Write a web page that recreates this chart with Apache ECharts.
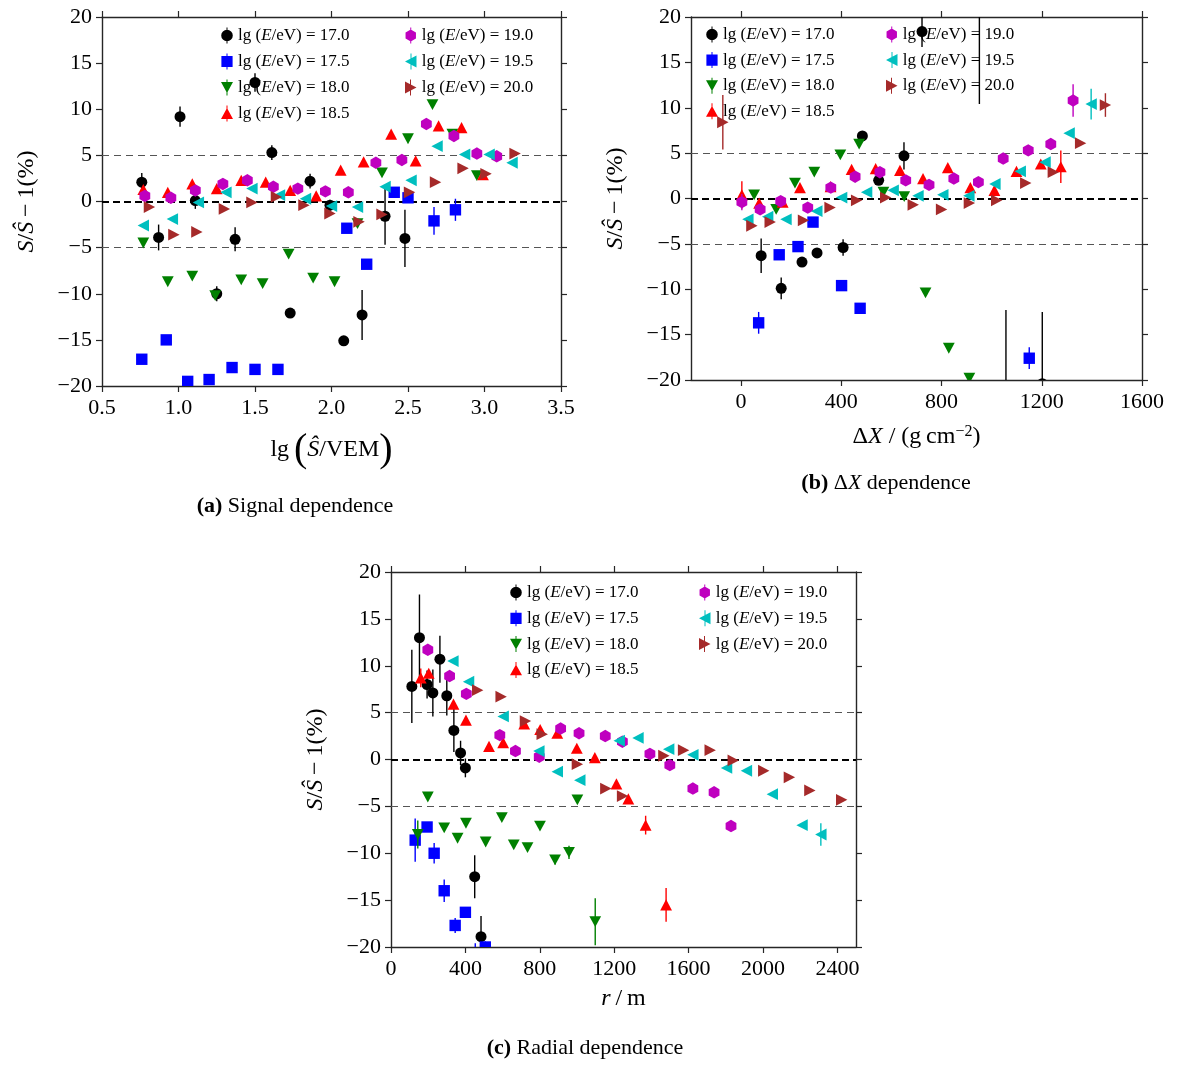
<!DOCTYPE html>
<html>
<head>
<meta charset="utf-8">
<script src="https://cdn.jsdelivr.net/npm/echarts@6/dist/echarts.min.js"></script>
<style>
  html, body { margin: 0; padding: 0; background: #fff; }
  #chart { width: 1181px; height: 1068px; }
</style>
</head>
<body>
<div id="chart"></div>
<script>
// Energy bins shown in every panel
const energyBins = ['17.0', '17.5', '18.0', '18.5', '19.0', '19.5', '20.0'];
const binColors = ['#000000', '#0000ff', '#008000', '#ff0000', '#bf00bf', '#00bfbf', '#a52a2a'];
const binShapes = ['circle', 'square', 'triDown', 'triUp', 'hexagon', 'triLeft', 'triRight'];

// Each point: [x, S/Ŝ − 1 in %, error in %]
// (a) signal dependence, x = lg(Ŝ/VEM)
const sig170 = [[0.76,2.1,1.0],[0.87,-3.9,1.4],[1.01,9.2,1.1],[1.11,0.1,0.9],[1.25,-10.0,0.8],[1.37,-4.1,1.3],[1.50,12.9,1.0],[1.61,5.3,0.8],[1.73,-12.1,0.5],[1.86,2.2,0.8],[1.99,-0.4,0.6],[2.08,-15.1,0.4],[2.20,-12.3,2.7],[2.35,-1.6,3.1],[2.48,-4.0,3.1]];
const sig175 = [[0.76,-17.1,0],[0.92,-15.0,0],[1.06,-19.5,0],[1.20,-19.3,0],[1.35,-18.0,0],[1.50,-18.2,0],[1.65,-18.2,0],[2.10,-2.9,0],[2.23,-6.8,0],[2.41,1.0,0],[2.50,0.4,0],[2.67,-2.1,1.5],[2.81,-0.9,1.2]];
const sig180 = [[0.77,-4.5,0],[0.93,-8.7,0],[1.09,-8.1,0],[1.24,-10.2,0],[1.41,-8.5,0],[1.55,-8.9,0],[1.72,-5.7,0],[1.88,-8.3,0],[2.02,-8.7,0],[2.17,-2.4,0],[2.33,3.1,0],[2.50,6.8,0],[2.66,10.5,0],[2.79,7.3,0],[2.95,2.8,0]];
const sig185 = [[0.77,1.3,0],[0.93,1.0,0],[1.09,1.9,0],[1.25,1.4,0],[1.41,2.3,0],[1.57,2.1,0],[1.73,1.2,0],[1.90,0.6,0],[2.06,3.4,0],[2.21,4.3,0],[2.39,7.3,0],[2.55,4.4,0],[2.70,8.2,0],[2.85,8.0,0],[2.99,2.9,0]];
const sig190 = [[0.78,0.6,0],[0.95,0.4,0],[1.11,1.2,0],[1.29,1.9,0],[1.45,2.3,0],[1.62,1.6,0],[1.78,1.4,0],[1.96,1.1,0],[2.11,1.0,0],[2.29,4.2,0],[2.46,4.5,0],[2.62,8.4,0],[2.80,7.1,0],[2.95,5.2,0],[3.08,4.9,0]];
const sig195 = [[0.77,-2.6,0],[0.96,-1.9,0],[1.13,-0.1,0],[1.31,1.0,0],[1.48,1.4,0],[1.66,0.7,0],[1.83,0.3,0],[2.00,-0.5,0],[2.17,-0.6,0],[2.35,1.6,0],[2.52,2.3,0],[2.69,6.0,0],[2.87,5.1,0],[3.03,5.1,0],[3.18,4.2,0]];
const sig200 = [[0.81,-0.6,0],[0.97,-3.6,0],[1.12,-3.3,0],[1.30,-0.8,0],[1.48,-0.1,0],[1.64,0.5,0],[1.82,-0.4,0],[1.99,-1.3,0],[2.18,-2.2,0],[2.33,-1.4,0],[2.51,1.0,0],[2.68,2.1,0],[2.86,3.6,0],[3.01,3.0,0],[3.20,5.2,0]];

// (b) ΔX dependence, x = ΔX in g cm^-2
const dx170 = [[80,-6.3,1.9],[160,-9.9,1.2],[243,-7.0,0],[303,-6.0,0],[407,-5.4,0.9],[484,6.9,0],[549,2.0,0],[650,4.7,1.5],[722,18.4,1.7],[951,26.0,15.6],[1057,-27.0,14.7],[1202,-20.4,7.9]];
const dx175 = [[70,-13.7,1.2],[152,-6.2,0],[227,-5.3,0],[287,-2.6,0],[401,-9.6,0],[475,-12.1,0],[1150,-17.6,1.2]];
const dx180 = [[52,0.4,0],[140,-1.2,0],[215,1.7,0],[292,2.9,0],[396,4.8,0],[471,6.0,0],[568,0.7,0],[651,0.2,0],[736,-10.4,0],[829,-16.5,0],[911,-19.8,0]];
const dx185 = [[3,0.4,1.5],[72,-0.5,0],[166,-0.4,0],[235,1.2,0],[357,1.3,0],[441,3.2,0],[537,3.3,0],[634,3.1,0],[726,2.2,0],[825,3.4,0],[915,1.2,0],[1011,0.9,0],[1099,3.0,0],[1196,3.8,0],[1276,3.5,1.8]];
const dx190 = [[3,-0.4,0.9],[76,-1.2,0],[158,-0.3,0],[266,-1.0,0],[358,1.2,0],[455,2.4,0],[554,2.9,0],[657,2.0,0],[750,1.5,0],[849,2.2,0],[947,1.8,0],[1046,4.4,0],[1146,5.3,0],[1236,6.0,0],[1325,10.8,1.8]];
const dx195 = [[27,-2.3,0],[106,-2.0,0],[179,-2.3,0],[302,-1.4,0],[401,0.1,0],[501,0.7,0],[607,0.9,0],[706,0.3,0],[805,0.4,0],[909,0.3,0],[1013,1.6,0],[1114,3.0,0],[1213,4.0,0],[1309,7.2,0],[1397,10.4,1.7]];
const dx200 = [[-73,8.4,3.0],[43,-3.0,0],[116,-2.6,0],[249,-2.4,0],[355,-1.0,0],[461,-0.2,0],[577,0.1,0],[687,-0.7,0],[800,-1.2,0],[911,-0.5,0],[1020,-0.2,0],[1136,1.7,0],[1246,2.9,0],[1355,6.1,0],[1454,10.3,1.3]];

// (c) radial dependence, x = r in m
const rad170 = [[112,7.8,3.9],[153,13.0,4.6],[194,8.0,1.5],[225,7.1,2.5],[263,10.7,2.5],[300,6.8,2.1],[338,3.1,2.3],[374,0.7,1.3],[400,-0.9,1.0],[450,-12.5,2.3],[484,-18.9,2.2]];
const rad175 = [[130,-8.6,2.3],[194,-7.2,0],[232,-10.0,1.1],[286,-14.0,1.2],[345,-17.7,0.8],[400,-16.3,0],[453,-21.5,1.9],[507,-20.0,0.6]];
const rad180 = [[144,-8.0,1.5],[198,-4.0,0],[286,-7.3,0],[358,-8.4,0],[403,-6.8,0],[509,-8.8,0],[596,-6.2,0],[660,-9.1,0],[734,-9.4,0],[801,-7.1,0],[882,-10.7,0.5],[957,-9.9,0.7],[1002,-4.3,0],[1098,-17.3,2.5]];
const rad185 = [[160,8.7,1.0],[203,9.2,0],[336,5.9,0],[403,4.2,0],[527,1.4,0],[603,1.8,0],[716,3.8,0],[802,3.2,0],[894,2.8,0],[999,1.2,0],[1096,0.2,0],[1212,-2.6,0],[1276,-4.2,0],[1369,-7.0,1.0],[1479,-15.5,1.8]];
const rad190 = [[198,11.7,0],[315,8.9,0],[405,7.0,0],[585,2.6,0],[669,0.9,0],[797,0.3,0],[912,3.3,0],[1011,2.8,0],[1152,2.5,0],[1244,1.9,0],[1392,0.6,0],[1499,-0.6,0],[1623,-3.1,0],[1737,-3.5,0],[1828,-7.1,0]];
const rad195 = [[333,10.5,0],[417,8.3,0],[603,4.6,0],[795,0.9,0],[894,-1.3,0],[1015,-2.2,0],[1227,2.0,0],[1328,2.3,0],[1493,1.1,0],[1623,0.5,0],[1804,-0.9,0],[1911,-1.2,0],[2050,-3.7,0],[2210,-7.0,0],[2311,-8.0,1.2]];
const rad200 = [[466,7.4,0],[592,6.7,0],[723,4.1,0],[813,2.7,0],[1002,-0.5,0],[1155,-3.1,0],[1245,-3.9,0],[1467,0.4,0],[1573,1.0,0],[1716,1.0,0],[1840,-0.1,0],[2004,-1.2,0],[2142,-1.9,0],[2252,-3.3,0],[2423,-4.3,0]];

// Axis ticks
const yTicks = [-20, -15, -10, -5, 0, 5, 10, 15, 20];
const sigTicks = [0.5, 1.0, 1.5, 2.0, 2.5, 3.0, 3.5];
const dxTicks = [0, 400, 800, 1200, 1600];
const radTicks = [0, 400, 800, 1200, 1600, 2000, 2400];

const panelData = [
  [sig170, sig175, sig180, sig185, sig190, sig195, sig200],
  [dx170, dx175, dx180, dx185, dx190, dx195, dx200],
  [rad170, rad175, rad180, rad185, rad190, rad195, rad200]
];

const FONT = '"Liberation Serif", "DejaVu Serif", serif';
const AXIS_COLOR = '#262626';
const seriesNames = energyBins.map(e => 'lg (E/eV) = ' + e);

// Legend icons: marker with a short vertical error stub (all sub-paths clockwise)
const legendIcons = {
  circle:   'path://M5.5,0H6.5V16H5.5Z M6,2.2A5.8,5.8 0 1 1 6,13.8A5.8,5.8 0 1 1 6,2.2Z',
  square:   'path://M5.5,0H6.5V16H5.5Z M0.4,2.4H11.6V13.6H0.4Z',
  triDown:  'path://M5.5,0H6.5V16H5.5Z M0,2.6H12L6,13.4Z',
  triUp:    'path://M5.5,0H6.5V16H5.5Z M6,2.6L12,13.4H0Z',
  hexagon:  'path://M5.5,0H6.5V16H5.5Z M6,2L11.2,5V11L6,14L0.8,11V5Z',
  triLeft:  'path://M5.5,0H6.5V16H5.5Z M0,8L11.5,2V14Z',
  triRight: 'path://M5.5,0H6.5V16H5.5Z M0.5,2L12,8L0.5,14Z'
};

function marker(kind, cx, cy, color) {
  const style = { fill: color };
  switch (kind) {
    case 'circle':
      return { type: 'circle', shape: { cx: cx, cy: cy, r: 5.5 }, style: style };
    case 'square':
      return { type: 'rect', shape: { x: cx - 5.7, y: cy - 5.7, width: 11.4, height: 11.4 }, style: style };
    case 'triDown':
      return { type: 'polygon', shape: { points: [[cx - 5.9, cy - 5.4], [cx + 5.9, cy - 5.4], [cx, cy + 5.4]] }, style: style };
    case 'triUp':
      return { type: 'polygon', shape: { points: [[cx, cy - 5.6], [cx + 5.9, cy + 5.6], [cx - 5.9, cy + 5.6]] }, style: style };
    case 'hexagon':
      return { type: 'polygon', shape: { points: [[cx, cy - 6.2], [cx + 5.4, cy - 3.1], [cx + 5.4, cy + 3.1], [cx, cy + 6.2], [cx - 5.4, cy + 3.1], [cx - 5.4, cy - 3.1]] }, style: style };
    case 'triLeft':
      return { type: 'polygon', shape: { points: [[cx - 5.7, cy], [cx + 5.7, cy - 5.9], [cx + 5.7, cy + 5.9]] }, style: style };
    default:
      return { type: 'polygon', shape: { points: [[cx + 5.7, cy], [cx - 5.7, cy - 5.9], [cx - 5.7, cy + 5.9]] }, style: style };
  }
}

function pointRenderer(kind, color) {
  return function (params, api) {
    const x = api.value(0), y = api.value(1), err = api.value(2);
    const c = api.coord([x, y]);
    const children = [];
    if (err > 0) {
      const hi = api.coord([x, y + err]);
      const lo = api.coord([x, y - err]);
      children.push({ type: 'line', shape: { x1: c[0], y1: hi[1], x2: c[0], y2: lo[1] },
        style: { stroke: color, lineWidth: 1.4 } });
    }
    children.push(marker(kind, c[0], c[1], color));
    return { type: 'group', children: children };
  };
}

const minus = v => (v < 0 ? '\u2212' + Math.abs(v) : String(v));

const grids = [
  { left: 102, top: 17, width: 459, height: 369 },
  { left: 691, top: 17, width: 451, height: 363 },
  { left: 391, top: 572, width: 465, height: 375 }
];

const nameStyle = {
  fontFamily: FONT, fontSize: 24, color: '#000',
  rich: {
    i: { fontFamily: FONT, fontSize: 24, fontStyle: 'italic', color: '#000' },
    p: { fontFamily: FONT, fontSize: 40, color: '#000', fontWeight: 'lighter' },
    sup: { fontFamily: FONT, fontSize: 16, color: '#000', verticalAlign: 'top', padding: [0, 0, 10, 0] }
  }
};

const xSpecs = [
  { min: 0.5, max: 3.5, ticks: sigTicks, fmt: v => v.toFixed(1),
    name: 'lg\u2009{p|(}{i|\u015C}/VEM{p|)}', gap: 44 },
  { min: -200, max: 1600, ticks: dxTicks, fmt: v => String(v),
    name: '\u0394{i|X} / (g\u2009cm{sup|\u22122})', gap: 44 },
  { min: 0, max: 2500, ticks: radTicks, fmt: v => String(v),
    name: '{i|r}\u2009/\u2009m', gap: 40 }
];

const axisLine = { show: true, onZero: false, lineStyle: { color: AXIS_COLOR, width: 1.4 } };
const axisTick = { show: true, inside: false, length: 6, lineStyle: { color: AXIS_COLOR, width: 1.2 } };
const labelBase = { fontFamily: FONT, fontSize: 22, color: '#000' };

const xAxes = [], yAxes = [];
xSpecs.forEach((s, g) => {
  xAxes.push({
    type: 'value', gridIndex: g, position: 'bottom', min: s.min, max: s.max,
    axisLine: axisLine,
    axisTick: Object.assign({ customValues: s.ticks }, axisTick),
    axisLabel: Object.assign({ customValues: s.ticks, formatter: s.fmt, margin: 11 }, labelBase),
    splitLine: { show: false },
    name: s.name, nameLocation: 'middle', nameGap: s.gap, nameTextStyle: nameStyle
  });
  xAxes.push({
    type: 'value', gridIndex: g, position: 'top', min: s.min, max: s.max,
    axisLine: axisLine,
    axisTick: Object.assign({ customValues: s.ticks }, axisTick),
    axisLabel: { show: false, customValues: s.ticks },
    splitLine: { show: false }
  });
  yAxes.push({
    type: 'value', gridIndex: g, position: 'left', min: -20, max: 20,
    axisLine: axisLine,
    axisTick: Object.assign({ customValues: yTicks }, axisTick),
    axisLabel: Object.assign({ customValues: yTicks, formatter: minus, margin: 10 }, labelBase),
    splitLine: { show: false },
    name: '{i|S}/{i|\u015C}\u2009\u2212\u20091(%)', nameLocation: 'middle', nameRotate: 90,
    nameGap: 63, nameTextStyle: nameStyle
  });
  yAxes.push({
    type: 'value', gridIndex: g, position: 'right', min: -20, max: 20,
    axisLine: axisLine,
    axisTick: Object.assign({ customValues: yTicks }, axisTick),
    axisLabel: { show: false, customValues: yTicks },
    splitLine: { show: false }
  });
});

const series = [];
panelData.forEach((sets, g) => {
  // reference levels at 0 and ±5 %
  series.push({
    type: 'scatter', xAxisIndex: 2 * g, yAxisIndex: 2 * g, data: [], silent: true, z: 1,
    markLine: {
      silent: true, symbol: 'none', animation: false, label: { show: false },
      data: [
        { yAxis: 5, lineStyle: { color: '#555', type: [7, 5], width: 1.1 } },
        { yAxis: -5, lineStyle: { color: '#555', type: [7, 5], width: 1.1 } },
        { yAxis: 0, lineStyle: { color: '#000', type: [7, 4], width: 2.2 } }
      ]
    }
  });
  sets.forEach((pts, k) => {
    series.push({
      type: 'custom', name: seriesNames[k], xAxisIndex: 2 * g, yAxisIndex: 2 * g,
      clip: true, z: 5,
      itemStyle: { color: binColors[k] },
      dimensions: ['x', 'y', 'err'],
      encode: { x: 0, y: 1 },
      renderItem: pointRenderer(binShapes[k], binColors[k]),
      data: pts
    });
  });
});

const legendText = {
  fontFamily: FONT, fontSize: 17, color: '#000',
  rich: { e: { fontFamily: FONT, fontSize: 17, fontStyle: 'italic', color: '#000' } }
};
function legendBlock(left, top, gap, idx) {
  return {
    orient: 'vertical', left: left, top: top, itemWidth: 12, itemHeight: 16, itemGap: gap,
    padding: 0, selectedMode: false, textStyle: legendText,
    formatter: n => n.replace('(E/', '({e|E}/'),
    data: idx.map(k => ({ name: seriesNames[k], icon: legendIcons[binShapes[k]] }))
  };
}
const legends = [
  legendBlock(221, 27, 9, [0, 1, 2, 3]),
  legendBlock(405, 27, 9, [4, 5, 6]),
  legendBlock(706, 26, 8.6, [0, 1, 2, 3]),
  legendBlock(886, 26, 8.6, [4, 5, 6]),
  legendBlock(510, 584, 8.8, [0, 1, 2, 3]),
  legendBlock(699, 584, 8.8, [4, 5, 6])
];

const captionRich = { b: { fontFamily: FONT, fontSize: 22, fontWeight: 'bold', fill: '#000' },
                      i: { fontFamily: FONT, fontSize: 22, fontStyle: 'italic', fill: '#000' } };
function caption(x, y, text) {
  return { type: 'text', x: x, y: y, silent: true,
    style: { text: text, align: 'center', verticalAlign: 'middle', fontFamily: FONT, fontSize: 22,
             fill: '#000', rich: captionRich } };
}

const chart = echarts.init(document.getElementById('chart'), null, { renderer: 'canvas' });
chart.setOption({
  animation: false,
  backgroundColor: '#fff',
  grid: grids,
  xAxis: xAxes,
  yAxis: yAxes,
  legend: legends,
  series: series,
  graphic: [
    caption(295, 506, '{b|(a)} Signal dependence'),
    caption(886, 483, '{b|(b)} \u0394{i|X} dependence'),
    caption(585, 1048, '{b|(c)} Radial dependence')
  ]
});
</script>
</body>
</html>
